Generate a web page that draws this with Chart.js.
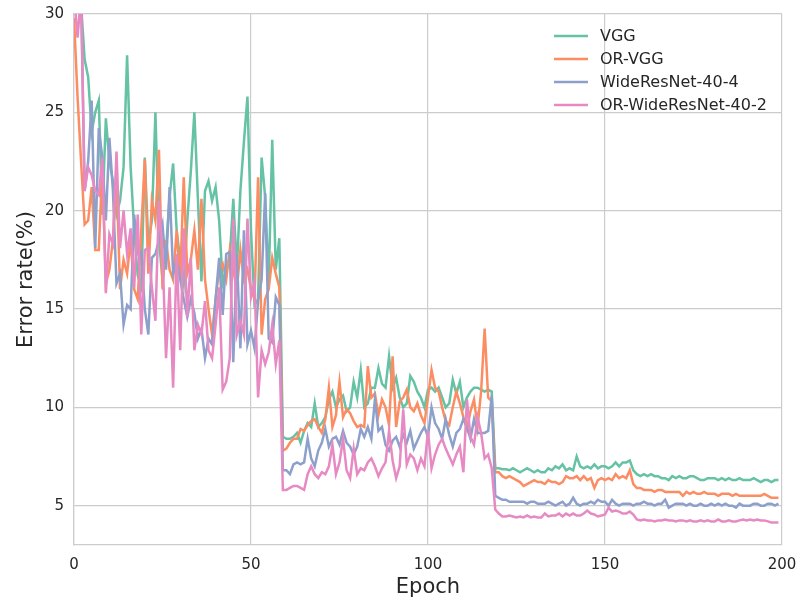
<!DOCTYPE html>
<html>
<head>
    <title>Error rate</title>
    <style>
        body { margin: 0; background: #fff; }
        #wrap { width: 799px; height: 607px; }
    </style>
</head>
<body>
<div id="wrap">
    <canvas id="myChart" width="799" height="607"></canvas>
</div>
<script src="https://cdn.jsdelivr.net/npm/chart.js"></script>
<script>
    const seriesNames = ['VGG', 'OR-VGG', 'WideResNet-40-4', 'OR-WideResNet-40-2'];
    const seriesColors = ['#66c2a5', '#fc8d62', '#8da0cb', '#e78ac3'];
    const xTicks = [0, 50, 100, 150, 200];
    const yTicks = [5, 10, 15, 20, 25, 30];

    // one value per epoch, epoch 0 .. 199
    const vgg = [
        31, 31, 30.5, 27.7, 26.8, 24, 25.0, 25.6, 19.8, 24.7,
        22.5, 21.5, 19.8, 20.5, 22.2, 27.9, 22.2, 19.0, 16.7, 16.1,
        22.7, 18.3, 19.5, 25.0, 18.5, 16.5, 18.0, 20.7, 22.4, 19.0,
        17.5, 16.3, 19.5, 22.0, 25.0, 20.6, 16.4, 21.0, 21.5, 20.5,
        21.2, 19.5, 16.3, 17.0, 17.6, 20.6, 17.0, 21.0, 23.5, 25.8,
        19.0, 15.2, 15.5, 22.7, 20.7, 16.3, 23.6, 17.0, 18.6, 8.5,
        8.4, 8.4, 8.5, 8.7, 8.2, 8.8, 9.2, 9.0, 10.2, 9.0,
        9.2, 9.5, 10.4, 10.8, 10.0, 10.4, 10.6, 9.8, 10.0, 11.3,
        10.5, 11.9, 10.0, 10.2, 11.0, 11.0, 12.0, 11.2, 11.0, 12.6,
        11.0, 11.5, 10.5, 10.0, 10.2, 11.6, 11.3, 10.8, 10.5, 10.0,
        10.9, 11.0, 10.8, 11.0, 10.5, 10.0, 10.2, 11.4, 10.7, 11.3,
        10.0, 10.5, 10.8, 11.0, 11.0, 10.9, 10.8, 10.9, 10.8, 6.9,
        6.9, 6.85, 6.85, 6.8, 6.9, 6.8, 6.7, 6.8, 6.9, 6.8,
        6.7, 6.8, 6.7, 6.7, 6.9, 6.8, 7.0, 6.9, 7.1, 6.8,
        6.9, 6.8, 7.5, 7.0, 6.9, 7.0, 6.9, 7.1, 6.9, 7.0,
        7.0, 6.9, 7.0, 7.2, 7.0, 7.2, 7.2, 7.3, 6.8, 6.6,
        6.5, 6.6, 6.5, 6.6, 6.5, 6.5, 6.4, 6.4, 6.3, 6.5,
        6.4, 6.5, 6.4, 6.4, 6.5, 6.5, 6.4, 6.3, 6.3, 6.4,
        6.4, 6.4, 6.3, 6.4, 6.3, 6.4, 6.3, 6.3, 6.4, 6.3,
        6.3, 6.3, 6.4, 6.3, 6.2, 6.3, 6.3, 6.2, 6.3, 6.3
    ];
    const orVgg = [
        29.8, 25.8, 22.5, 19.3, 19.5, 21.2, 18.0, 18.0, 22.2, 16.3,
        17.0, 18.5, 22.0, 16.0, 17.5, 16.8, 18.5, 16.0, 15.5, 19.0,
        22.6, 16.8, 20.5, 19.5, 23.1, 16.0, 18.5, 17.0, 16.5, 19.0,
        16.5, 21.7, 16.8, 17.5, 19.0, 17.0, 20.6, 16.5, 15.0, 13.7,
        15.5, 17.0, 17.3, 16.5, 18.0, 17.0, 16.0, 18.0, 16.5, 17.0,
        16.0, 15.5, 21.7, 13.7, 15.5, 16.0, 17.6, 16.8, 16.1, 7.8,
        7.9, 8.2, 8.4, 8.4, 8.9, 8.8, 9.1, 9.3, 9.4, 9.0,
        8.7, 9.4, 11.0, 9.0, 9.6, 11.3, 9.5, 9.9, 9.7, 9.3,
        9.0, 9.1, 9.0, 12.1, 10.5, 10.7, 9.6, 10.4, 10.0, 9.1,
        12.6, 9.0, 10.3, 10.5, 10.9, 10.0, 9.8, 10.2, 9.6, 9.2,
        10.5, 11.9, 11.0, 10.8, 10.0, 9.3, 9.1, 10.0, 10.8, 10.2,
        9.5, 8.9, 9.8, 10.4, 9.0, 10.8, 14.0, 10.5, 10.3, 6.7,
        6.7, 6.5, 6.4, 6.5, 6.4, 6.3, 6.2, 6.0, 6.1, 6.2,
        6.3, 6.2, 6.2, 6.1, 6.3, 6.2, 6.2, 6.1, 6.2, 6.5,
        6.4, 6.4, 6.5, 6.3, 6.5, 6.3, 6.4, 5.9, 6.3, 6.4,
        6.3, 6.4, 6.3, 6.6, 6.4, 6.5, 6.4, 6.8, 6.1, 5.9,
        5.9, 5.8, 5.8, 5.8, 5.7, 5.8, 5.8, 5.7, 5.7, 5.7,
        5.7, 5.7, 5.5, 5.7, 5.6, 5.7, 5.6, 5.6, 5.7, 5.6,
        5.6, 5.6, 5.5, 5.6, 5.6, 5.6, 5.5, 5.6, 5.5, 5.5,
        5.5, 5.5, 5.5, 5.5, 5.5, 5.6, 5.5, 5.4, 5.4, 5.4
    ];
    const wrn404 = [
        31, 31, 31, 21.0, 22.5, 25.6, 18.1, 24.2, 22.7, 19.5,
        23.7, 21.0, 16.3, 16.8, 14.2, 15.2, 15.0, 19.8, 17.8, 17.9,
        15.0, 13.7, 17.6, 17.8, 18.5, 19.3, 17.0, 21.2, 16.8, 17.5,
        16.5, 15.5, 14.6, 15.5, 14.8, 13.5, 14.0, 12.5, 13.5, 13.2,
        15.5, 17.6, 14.7, 17.8, 17.9, 12.3, 17.8, 13.0, 19.0, 13.2,
        13.9, 13.0, 15.4, 16.5, 20.9, 13.5, 13.3, 15.6, 15.2, 6.8,
        6.8, 6.6, 7.1, 7.2, 7.1, 7.2, 8.4, 7.4, 7.0, 7.8,
        8.2, 8.9, 8.0, 8.4, 8.5, 8.1, 8.8, 8.2, 8.0, 7.6,
        8.0, 8.9, 8.5, 9.0, 8.4, 10.4, 8.8, 9.0, 8.1, 7.8,
        8.3, 8.5, 8.0, 8.6, 8.2, 8.8, 7.9, 8.3, 8.7, 9.0,
        8.5, 10.0, 9.2, 8.9, 8.4, 9.4, 8.6, 8.0, 8.7, 8.9,
        9.4, 9.0, 8.4, 9.4, 8.7, 8.7, 8.7, 8.8, 10.6, 5.5,
        5.4, 5.3, 5.3, 5.2, 5.2, 5.2, 5.2, 5.2, 5.1, 5.2,
        5.2, 5.1, 5.1, 5.1, 5.2, 5.1, 5.0, 5.1, 5.2, 5.0,
        5.1, 5.4, 5.1, 5.0, 5.1, 5.1, 5.2, 5.1, 5.3, 5.2,
        5.2, 5.0, 5.3, 5.1, 5.0, 5.1, 5.1, 5.1, 5.0, 5.1,
        5.1, 5.2, 5.1, 5.1, 5.0, 5.1, 5.1, 5.3, 4.9, 5.0,
        5.1, 5.1, 5.1, 5.0, 5.1, 5.0, 5.0, 5.1, 5.0, 5.0,
        5.1, 5.0, 5.1, 5.0, 5.1, 5.0, 5.0, 4.9, 5.1, 5.0,
        5.0, 5.0, 5.1, 5.1, 5.0, 5.0, 5.1, 5.1, 5.0, 5.1
    ];
    const orWrn402 = [
        31, 28.8, 31, 21.0, 22.2, 21.8, 21.0, 20.8, 22.7, 15.8,
        18.8, 18.3, 23.0, 18.1, 20.0, 17.8, 19.1, 16.1, 19.8, 13.7,
        18.0, 18.1, 16.1, 14.4, 20.5, 17.8, 12.5, 16.1, 11.0, 17.8,
        12.9, 19.1, 14.6, 17.6, 12.9, 14.2, 13.7, 15.4, 12.9, 12.5,
        14.2, 16.1, 10.9, 11.3, 12.5, 19.6, 13.7, 14.4, 13.7, 19.6,
        15.6, 16.4, 10.5, 12.9, 12.2, 12.8, 14.2, 12.2, 13.4, 5.8,
        5.8, 5.9, 6.0, 6.0, 5.9, 5.8, 6.6, 7.0, 6.6, 6.4,
        6.7, 6.6, 7.0, 8.1, 6.6, 7.2, 8.4, 6.8, 6.4, 7.9,
        6.6, 6.9, 6.8, 7.2, 7.4, 7.0, 6.5, 6.9, 7.2, 8.8,
        7.3, 6.4, 7.0, 9.9, 7.1, 7.6, 7.4, 6.8, 7.4, 7.0,
        8.8, 6.9, 7.6, 8.1, 8.4, 7.9, 7.5, 7.1, 7.6, 8.0,
        6.7, 10.4, 8.5, 8.1, 9.5, 8.7, 7.4, 7.6, 6.9, 4.8,
        4.6, 4.45, 4.45, 4.5, 4.45, 4.4, 4.45, 4.4, 4.5, 4.4,
        4.45, 4.4, 4.4, 4.6, 4.45, 4.5, 4.5, 4.6, 4.45, 4.6,
        4.5, 4.6, 4.5, 4.5, 4.6, 4.75, 4.6, 4.55, 4.45, 4.5,
        4.55, 4.9, 4.7, 4.75, 4.7, 4.6, 4.6, 4.7, 4.55, 4.3,
        4.25, 4.3, 4.25, 4.25, 4.2, 4.25, 4.25, 4.3, 4.25, 4.25,
        4.2, 4.25, 4.25, 4.2, 4.25, 4.2, 4.2, 4.25, 4.2, 4.25,
        4.2, 4.2, 4.3, 4.2, 4.2, 4.25, 4.2, 4.2, 4.25, 4.3,
        4.25, 4.3, 4.25, 4.3, 4.25, 4.25, 4.2, 4.15, 4.15, 4.15
    ];

    const allSeries = [vgg, orVgg, wrn404, orWrn402];
    const textColor = '#262626';
    const gridColor = '#cccccc';

    const datasets = allSeries.map((values, i) => ({
        label: seriesNames[i],
        data: values.map((v, epoch) => ({x: epoch, y: v})),
        borderColor: seriesColors[i],
        backgroundColor: seriesColors[i],
        borderWidth: 2.5,
        pointRadius: 0,
        tension: 0,
        fill: false,
        order: allSeries.length - i   // later series drawn on top
    }));

    // legend drawn inside the plot, top right, like the original
    const insideLegend = {
        id: 'insideLegend',
        afterDraw(chart) {
            const ctx = chart.ctx;
            const area = chart.chartArea;
            const x0 = area.right - 228;
            ctx.save();
            ctx.font = '16px "DejaVu Sans"';
            ctx.textBaseline = 'middle';
            chart.data.datasets.forEach((ds, i) => {
                const y = area.top + 22 + i * 23;
                ctx.strokeStyle = ds.borderColor;
                ctx.lineWidth = 2.5;
                ctx.beginPath();
                ctx.moveTo(x0, y);
                ctx.lineTo(x0 + 34, y);
                ctx.stroke();
                ctx.fillStyle = textColor;
                ctx.fillText(ds.label, x0 + 46, y + 1);
            });
            ctx.restore();
        }
    };

    const chartConfig = {
        type: 'line',
        data: {datasets: datasets},
        options: {
            responsive: false,
            animation: false,
            layout: {padding: {top: 14, right: 17, left: 0, bottom: 0}},
            plugins: {
                legend: {display: false},
                tooltip: {enabled: false}
            },
            scales: {
                x: {
                    type: 'linear',
                    min: 0,
                    max: 200,
                    afterBuildTicks: scale => { scale.ticks = xTicks.map(v => ({value: v})); },
                    afterFit: scale => {
                        scale.height = 62;
                        scale.paddingLeft = 0;
                        scale.paddingRight = 0;
                    },
                    grid: {color: gridColor, lineWidth: 1.2, drawTicks: false},
                    border: {color: gridColor, width: 1.2},
                    ticks: {
                        color: textColor,
                        padding: 11,
                        maxRotation: 0,
                        font: {family: '"DejaVu Sans"', size: 15}
                    },
                    title: {
                        display: true,
                        text: 'Epoch',
                        color: textColor,
                        padding: {top: 0, bottom: 7},
                        font: {family: '"DejaVu Sans"', size: 21}
                    }
                },
                y: {
                    min: 3,
                    max: 30,
                    afterBuildTicks: scale => { scale.ticks = yTicks.map(v => ({value: v})); },
                    afterFit: scale => {
                        scale.width = 74;
                        scale.paddingTop = 0;
                        scale.paddingBottom = 0;
                    },
                    grid: {color: gridColor, lineWidth: 1.2, drawTicks: false},
                    border: {color: gridColor, width: 1.2},
                    ticks: {
                        color: textColor,
                        padding: 10,
                        font: {family: '"DejaVu Sans"', size: 15}
                    },
                    title: {
                        display: true,
                        text: 'Error rate(%)',
                        color: textColor,
                        padding: {top: 14, bottom: 0},
                        font: {family: '"DejaVu Sans"', size: 21}
                    }
                }
            }
        },
        plugins: [insideLegend]
    };

    const canvas = document.getElementById('myChart');
    const chart = new Chart(canvas, chartConfig);
</script>
</body>
</html>
